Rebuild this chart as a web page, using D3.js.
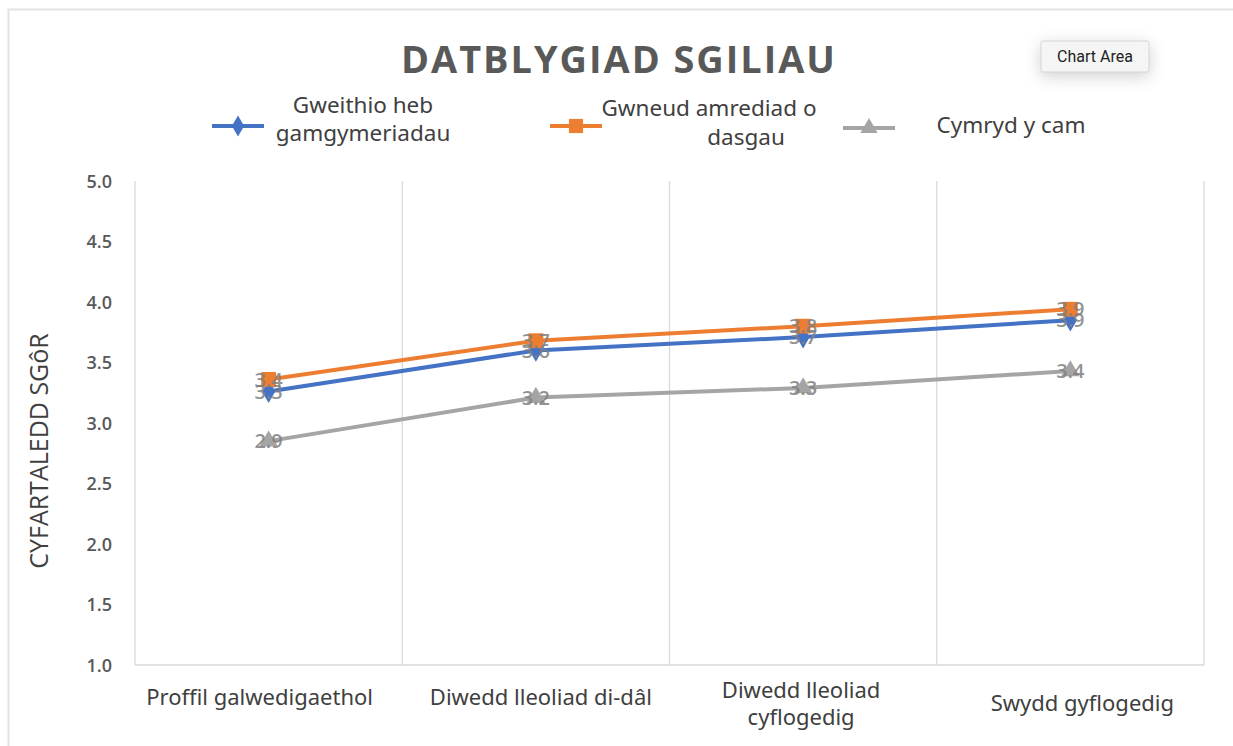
<!DOCTYPE html>
<html>
<head>
<meta charset="utf-8">
<script src="https://cdn.jsdelivr.net/npm/d3@7/dist/d3.min.js"></script>
<style>
  html, body { margin: 0; padding: 0; background: #fff; }
  svg { display: block; }
</style>
</head>
<body>
<svg id="chart" width="1233" height="746"></svg>
<script>
const categories = [
  ["Proffil galwedigaethol"],
  ["Diwedd lleoliad di-dâl"],
  ["Diwedd lleoliad", "cyflogedig"],
  ["Swydd gyflogedig"]
];
const seriesNames = [
  ["Gweithio heb", "gamgymeriadau"],
  ["Gwneud amrediad o", "dasgau"],
  ["Cymryd y cam"]
];
const blueValues = [3.26, 3.60, 3.71, 3.85];
const orangeValues = [3.36, 3.68, 3.80, 3.94];
const grayValues = [2.85, 3.21, 3.29, 3.43];
const yTicks = [1.0, 1.5, 2.0, 2.5, 3.0, 3.5, 4.0, 4.5, 5.0];
const titleText = "DATBLYGIAD SGILIAU";
const yAxisTitle = "CYFARTALEDD SGôR";

const colors = ["#4472C4", "#ED7D31", "#A5A5A5"];
const series = [
  { name: seriesNames[0], values: blueValues, color: colors[0], symbol: d3.symbolDiamond },
  { name: seriesNames[1], values: orangeValues, color: colors[1], symbol: d3.symbolSquare },
  { name: seriesNames[2], values: grayValues, color: colors[2], symbol: d3.symbolTriangle }
];

const svg = d3.select("#chart");
const W = 1233, H = 746;
const plot = { left: 135, right: 1204, top: 181, bottom: 665 };

// chart area border
svg.append("rect").attr("x", 8.5).attr("y", 9.5).attr("width", W + 10).attr("height", H + 10)
  .attr("fill", "#fff").attr("stroke", "#e3e3e3").attr("stroke-width", 2);

const x = d3.scaleBand().domain(d3.range(categories.length)).range([plot.left, plot.right]).padding(0);
const y = d3.scaleLinear().domain([1, 5]).range([plot.bottom, plot.top]);

// vertical gridlines at category boundaries
const bounds = d3.range(categories.length + 1).map(i => i < categories.length ? x(i) : x(categories.length - 1) + x.bandwidth());
svg.append("g").selectAll("line").data(bounds).join("line")
  .attr("x1", d => d).attr("x2", d => d)
  .attr("y1", plot.top).attr("y2", plot.bottom)
  .attr("stroke", "#d9d9d9").attr("stroke-width", 1.3);

// bottom axis line
svg.append("line").attr("x1", plot.left).attr("x2", plot.right)
  .attr("y1", plot.bottom).attr("y2", plot.bottom)
  .attr("stroke", "#d9d9d9").attr("stroke-width", 1.3);

// y axis tick labels
const yAxis = d3.axisLeft(y).tickValues(yTicks).tickFormat(d3.format(".1f")).tickSize(0).tickPadding(0);
const yg = svg.append("g").attr("transform", `translate(${plot.left - 23},0)`).call(yAxis);
yg.select(".domain").remove();
yg.selectAll("text").attr("font-family", "Open Sans, sans-serif").attr("font-size", 18)
  .attr("font-weight", 600).attr("fill", "#595959").attr("dy", "0.34em");

// y axis title
svg.append("text").attr("transform", `translate(48,451) rotate(-90)`)
  .attr("text-anchor", "middle").attr("font-family", "Open Sans, sans-serif")
  .attr("font-size", 25).attr("fill", "#404040").attr("font-weight", 400).text(yAxisTitle);

// category labels
const cg = svg.append("g");
categories.forEach((lines, i) => {
  const cx = x(i) + x.bandwidth() / 2;
  const t = cg.append("text").attr("text-anchor", "middle")
    .attr("font-family", "Noto Sans, sans-serif").attr("font-size", 22).attr("fill", "#404040");
  const startY = lines.length === 1 ? (i === 3 ? 711 : 705) : 698;
  const offs = [-9, 5, -2, 12];
  lines.forEach((l, k) => t.append("tspan").attr("x", cx + offs[i]).attr("y", startY + k * 27).text(l));
});

// lines and markers
const line = d3.line().x((d, i) => x(i) + x.bandwidth() / 2).y(d => y(d));
series.forEach(s => {
  svg.append("path").datum(s.values).attr("d", line).attr("fill", "none")
    .attr("stroke", s.color).attr("stroke-width", 4).attr("stroke-linejoin", "round");
});
series.forEach(s => {
  svg.append("g").selectAll("path").data(s.values).join("path")
    .attr("transform", (d, i) => `translate(${x(i) + x.bandwidth() / 2},${y(d)})`)
    .attr("d", d3.symbol().type(s.symbol).size(s.symbol === d3.symbolSquare ? 220 : 150))
    .attr("fill", s.color);
});
// data labels
series.forEach(s => {
  svg.append("g").selectAll("text").data(s.values).join("text")
    .attr("x", (d, i) => x(i) + x.bandwidth() / 2)
    .attr("y", d => y(d)).attr("dy", "0.36em")
    .attr("text-anchor", "middle").attr("font-family", "Open Sans, sans-serif")
    .attr("font-size", 20).attr("font-weight", 600).attr("fill", "#808080").attr("fill-opacity", 0.85)
    .text(d => d3.format(".1f")(d));
});

// title
svg.append("text").attr("x", 619).attr("y", 73).attr("text-anchor", "middle")
  .attr("font-family", "Open Sans, sans-serif").attr("font-weight", 700).attr("font-size", 38)
  .attr("letter-spacing", 2).attr("fill", "#595959")
  .attr("textLength", 436).attr("lengthAdjust", "spacingAndGlyphs").text(titleText);

// legend
const legendItems = [
  { x: 212, tx: 363, lines: seriesNames[0], ty: [113, 141] },
  { x: 550, tx: 709, lines: seriesNames[1], ty: [116, 145], tx2: 746 },
  { x: 843, tx: 1011, lines: seriesNames[2], ty: [133] }
];
legendItems.forEach((li, i) => {
  const s = series[i];
  const ly = i === 2 ? 128 : 126;
  svg.append("line").attr("x1", li.x).attr("x2", li.x + 52).attr("y1", ly).attr("y2", ly)
    .attr("stroke", s.color).attr("stroke-width", 4);
  svg.append("path").attr("transform", `translate(${li.x + 26},${ly})`)
    .attr("d", d3.symbol().type(s.symbol).size(s.symbol === d3.symbolSquare ? 200 : 130)).attr("fill", s.color);
  const t = svg.append("text").attr("text-anchor", "middle").attr("font-family", "Noto Sans, sans-serif")
    .attr("font-size", 22.5).attr("fill", "#404040");
  li.lines.forEach((l, k) => t.append("tspan").attr("x", (k === 1 && li.tx2) ? li.tx2 : li.tx).attr("y", li.ty[k]).text(l));
});

// "Chart Area" tooltip
const tip = svg.append("g").attr("transform", "translate(1041,41)");
tip.append("rect").attr("width", 108).attr("height", 31).attr("rx", 2)
  .attr("fill", "#f5f5f5").attr("stroke", "#d6d6d6")
  .style("filter", "drop-shadow(0px 4px 8px rgba(0,0,0,0.18))");
tip.append("text").attr("x", 54).attr("y", 21).attr("text-anchor", "middle")
  .attr("font-family", "Roboto, sans-serif").attr("font-size", 16).attr("fill", "#222").text("Chart Area");
</script>
</body>
</html>
